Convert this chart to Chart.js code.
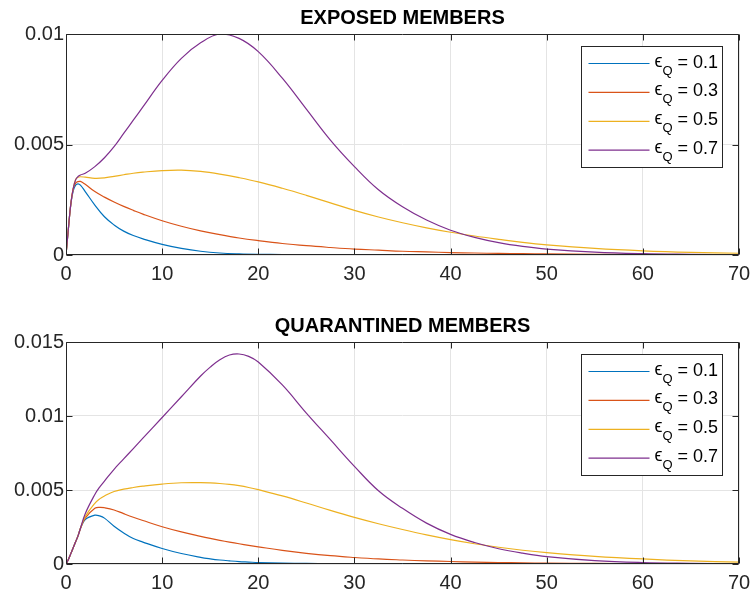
<!DOCTYPE html>
<html>
<head>
<meta charset="utf-8">
<script src="https://cdn.jsdelivr.net/npm/chart.js@4/dist/chart.umd.min.js"></script>
<style>
  body { margin: 0; background: #fff; }
  .panel { position: absolute; left: 0; }
</style>
</head>
<body>
<div class="panel" style="top:0px"><canvas id="exposed" width="753" height="300"></canvas></div>
<div class="panel" style="top:308px"><canvas id="quarantined" width="753" height="293"></canvas></div>
<script>
// time axis (days) for each panel
var tExposed = [0, 0.25, 0.5, 0.75, 1, 1.25, 1.5, 2, 3, 4, 5, 6, 7, 8, 10, 12, 14, 16, 18, 20,
  22.5, 25, 27.5, 30, 32.5, 35, 37.5, 40, 42.5, 45, 47.5, 50, 55, 60, 65, 70];
var tQuarantined = [0, 0.25, 0.5, 0.75, 1, 1.25, 1.5, 2, 3, 3.5, 4, 5, 6, 7, 8, 10, 12, 14,
  15, 16, 17, 18, 19, 20, 22.5, 25, 27.5, 30, 32.5, 35, 37.5, 40, 42.5, 45, 47.5, 50,
  55, 60, 65, 70];

var epsilonQ = ['0.1', '0.3', '0.5', '0.7'];
var lineColors = ['#0072BD', '#D95319', '#EDB120', '#7E2F8E'];

var xTicks = [0, 10, 20, 30, 40, 50, 60, 70];
var yTicksExposed = [0, 0.005, 0.01];
var yLabelsExposed = ['0', '0.005', '0.01'];
var yTicksQuarantined = [0, 0.005, 0.01, 0.015];
var yLabelsQuarantined = ['0', '0.005', '0.01', '0.015'];

// exposed members
var exposed01 = [0, 0.0012, 0.0023, 0.0029, 0.00316, 0.00322, 0.00316, 0.00287, 0.00226, 0.00173,
  0.00136, 0.00108, 0.00088, 0.00073, 0.00048, 0.0003, 0.00017, 0.00009, 0.00005, 0.00003,
  0.00002, 0.00001, 0.000007, 0.000005, 0.000003, 0.000002, 0.000001, 0.000001, 0, 0, 0, 0, 0, 0, 0, 0];
var exposed03 = [0, 0.0012, 0.0023, 0.003, 0.00325, 0.00332, 0.00333, 0.0032, 0.00287, 0.00262,
  0.0024, 0.0022, 0.00202, 0.00185, 0.00155, 0.0013, 0.00109, 0.00092, 0.00077, 0.00065,
  0.00052, 0.00042, 0.00034, 0.00027, 0.00022, 0.00017, 0.00014, 0.00011, 0.00009, 0.00007,
  0.00006, 0.00005, 0.00003, 0.00002, 0.00001, 0.00001];
var exposed05 = [0, 0.0012, 0.0023, 0.003, 0.00342, 0.00352, 0.00354, 0.00352, 0.00347, 0.00349,
  0.00356, 0.00363, 0.0037, 0.00375, 0.00382, 0.00384, 0.00378, 0.00366, 0.0035, 0.00331,
  0.00302, 0.0027, 0.00236, 0.00202, 0.00172, 0.00146, 0.00123, 0.00103, 0.00086, 0.00071,
  0.00057, 0.00046, 0.0003, 0.00019, 0.00012, 0.00008];
var exposed07 = [0, 0.0012, 0.0023, 0.003, 0.0034, 0.00355, 0.00362, 0.0037, 0.004, 0.0044,
  0.0049, 0.0055, 0.0061, 0.0067, 0.0079, 0.0089, 0.0096, 0.01, 0.0098, 0.0092,
  0.008, 0.0066, 0.0052, 0.004, 0.00295, 0.00218, 0.00158, 0.00112, 0.0008, 0.00056,
  0.00039, 0.00027, 0.00013, 0.00006, 0.00003, 0.00001];

// quarantined members
var quarantined01 = [0, 0.0003, 0.0007, 0.0011, 0.0015, 0.0019, 0.0024, 0.003,
  0.0033, 0.00325, 0.0031, 0.00255, 0.0021, 0.00172, 0.00148, 0.00105, 0.00071, 0.00045,
  0.00035, 0.00027, 0.00021, 0.00016, 0.00013, 0.0001,
  0.00006, 0.00004, 0.00002, 0.00001, 0.000006, 0.000004, 0.000002, 0.000001, 0, 0, 0, 0,
  0, 0, 0, 0];
var quarantined03 = [0, 0.0003, 0.0007, 0.0011, 0.0015, 0.0019, 0.0024, 0.0031,
  0.00376, 0.00383, 0.0038, 0.00365, 0.0034, 0.00316, 0.00294, 0.00252, 0.00217, 0.00187,
  0.00173, 0.0016, 0.00148, 0.00137, 0.00126, 0.00116,
  0.00092, 0.00072, 0.00056, 0.00044, 0.00034, 0.00027, 0.00021, 0.00017, 0.00013, 0.0001,
  0.00008, 0.00006, 0.00004, 0.00002, 0.00001, 0.00001];
var quarantined05 = [0, 0.0003, 0.0007, 0.0011, 0.0015, 0.0019, 0.0024, 0.0032,
  0.0041, 0.0044, 0.0046, 0.0049, 0.00506, 0.00517, 0.00526, 0.0054, 0.00549, 0.0055,
  0.00548, 0.00544, 0.00538, 0.00529, 0.00517, 0.00502,
  0.0046, 0.00412, 0.00362, 0.00315, 0.00272, 0.00233, 0.00197, 0.00165, 0.00137, 0.00113,
  0.00093, 0.00077, 0.00052, 0.00034, 0.00021, 0.00013];
var quarantined07 = [0, 0.0003, 0.0007, 0.0011, 0.0015, 0.0019, 0.0024, 0.0034,
  0.0047, 0.0052, 0.0056, 0.0064, 0.0071, 0.0078, 0.0085, 0.0099, 0.0113, 0.0127,
  0.0133, 0.0138, 0.01412, 0.01419, 0.01403, 0.01365,
  0.0121, 0.0102, 0.0084, 0.0066, 0.00495, 0.00376, 0.00276, 0.002, 0.00145, 0.00103,
  0.00073, 0.0005, 0.00023, 0.0001, 0.00005, 0.00002];

var fontFamily = '"Liberation Sans", Arial, Helvetica, sans-serif';
var axisColor = '#262626';
Chart.defaults.font.family = fontFamily;

// box around the axes with inward tick marks on all four sides
var axesBox = {
  id: 'axesBox',
  afterDraw: function(chart) {
    var ctx = chart.ctx, a = chart.chartArea;
    var xs = chart.scales.x, ys = chart.scales.y;
    var l = Math.round(a.left) + 0.5, r = Math.round(a.right) - 0.5;
    var t = Math.round(a.top) + 0.5, b = Math.round(a.bottom) - 0.5;
    ctx.save();
    ctx.strokeStyle = axisColor;
    ctx.lineWidth = 1;
    ctx.beginPath();
    ctx.rect(l, t, r - l, b - t);
    xs.ticks.forEach(function(tk) {
      var px = Math.round(xs.getPixelForValue(tk.value)) + 0.5;
      ctx.moveTo(px, b); ctx.lineTo(px, b - 6);
      ctx.moveTo(px, t); ctx.lineTo(px, t + 6);
    });
    ys.ticks.forEach(function(tk) {
      var py = Math.round(ys.getPixelForValue(tk.value)) + 0.5;
      ctx.moveTo(l, py); ctx.lineTo(l + 6, py);
      ctx.moveTo(r, py); ctx.lineTo(r - 6, py);
    });
    ctx.stroke();
    ctx.restore();
  }
};

// legend with subscripted epsilon labels, upper right corner
var epsLegend = {
  id: 'epsLegend',
  afterDraw: function(chart) {
    var ctx = chart.ctx, a = chart.chartArea;
    var bx = Math.round(a.right - 158) + 0.5, by = Math.round(a.top + 12) + 0.5;
    var bw = 141, bh = 121;
    ctx.save();
    ctx.fillStyle = '#fff';
    ctx.fillRect(bx, by, bw, bh);
    ctx.strokeStyle = axisColor;
    ctx.lineWidth = 1;
    ctx.strokeRect(bx, by, bw, bh);
    chart.data.datasets.forEach(function(ds, i) {
      var y = by + 17 + i * 28.9;
      ctx.strokeStyle = ds.borderColor;
      ctx.lineWidth = 1.2;
      ctx.beginPath();
      ctx.moveTo(bx + 7, y);
      ctx.lineTo(bx + 68, y);
      ctx.stroke();
      ctx.fillStyle = '#000';
      ctx.textBaseline = 'alphabetic';
      ctx.textAlign = 'left';
      ctx.font = '18px ' + fontFamily;
      var x = bx + 73;
      ctx.fillText('\u03F5', x, y + 3);
      x += ctx.measureText('\u03F5').width;
      ctx.font = '13px ' + fontFamily;
      ctx.fillText('Q', x, y + 11);
      x += ctx.measureText('Q').width;
      ctx.font = '18px ' + fontFamily;
      ctx.fillText(' = ' + ds.eps, x, y + 4);
    });
    ctx.restore();
  }
};

function makePanel(elementId, title, t, series, yTicks, yLabels, xAxisHeight) {
  var ctx = document.getElementById(elementId).getContext('2d');
  var datasets = [];
  for (var i = 0; i < series.length; i++) {
    datasets.push({
      label: '\u03F5Q = ' + epsilonQ[i],
      eps: epsilonQ[i],
      data: t.map(function(x, j) { return { x: x, y: series[i][j] }; }),
      borderColor: lineColors[i],
      borderWidth: 1.2,
      pointRadius: 0,
      fill: false,
      tension: 0.4,
      order: series.length - i
    });
  }
  var chart = new Chart(ctx, {
    type: 'line',
    data: { datasets: datasets },
    options: {
      responsive: false,
      animation: false,
      devicePixelRatio: 1,
      layout: { padding: { left: 0, right: 14, top: 0, bottom: 0 } },
      plugins: {
        legend: { display: false },
        tooltip: { enabled: false },
        title: {
          display: true,
          text: title,
          fullSize: false,
          color: '#000',
          font: { size: 20, weight: 'bold' },
          padding: { top: 6, bottom: 4 }
        }
      },
      scales: {
        x: {
          type: 'linear',
          min: 0,
          max: 70,
          afterBuildTicks: function(s) { s.ticks = xTicks.map(function(v) { return { value: v }; }); },
          afterFit: function(s) {
            s.height = xAxisHeight;
            s.paddingLeft = 0;
            s.paddingRight = 0;
          },
          ticks: {
            color: axisColor,
            font: { size: 20 },
            padding: 7,
            maxRotation: 0,
            callback: function(v) { return String(v); }
          },
          grid: { color: '#e4e4e4', drawTicks: false },
          border: { display: false }
        },
        y: {
          min: 0,
          max: yTicks[yTicks.length - 1],
          afterBuildTicks: function(s) { s.ticks = yTicks.map(function(v) { return { value: v }; }); },
          afterFit: function(s) { s.width = 66; },
          ticks: {
            color: axisColor,
            font: { size: 20 },
            padding: 2,
            callback: function(v, idx) { return yLabels[idx]; }
          },
          grid: { color: '#e4e4e4', drawTicks: false },
          border: { display: false }
        }
      }
    },
    plugins: [axesBox, epsLegend]
  });
  return chart;
}

makePanel('exposed', 'EXPOSED MEMBERS', tExposed,
  [exposed01, exposed03, exposed05, exposed07], yTicksExposed, yLabelsExposed, 45);
makePanel('quarantined', 'QUARANTINED MEMBERS', tQuarantined,
  [quarantined01, quarantined03, quarantined05, quarantined07], yTicksQuarantined, yLabelsQuarantined, 37);
</script>
</body>
</html>
